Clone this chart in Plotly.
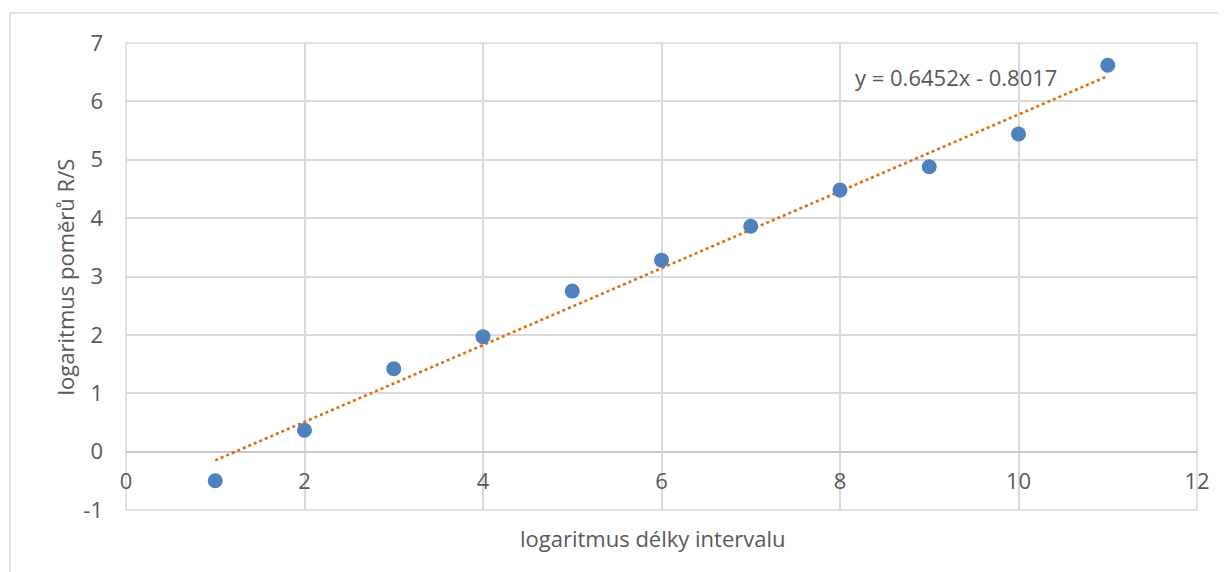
import numpy as np
import plotly.graph_objects as go

# Data
x_vals = [1, 2, 3, 4, 5, 6, 7, 8, 9, 10, 11]
y_vals = [-0.50, 0.365, 1.42, 1.97, 2.75, 3.28, 3.86, 4.48, 4.88, 5.44, 6.62]
x_ticks = [0, 2, 4, 6, 8, 10, 12]
y_ticks = [-1, 0, 1, 2, 3, 4, 5, 6, 7]
equation_label = "y = 0.6452x - 0.8017"
x_title = "logaritmus délky intervalu"
y_title = "logaritmus poměrů R/S"

# Linear trendline computed from the data
slope, intercept = np.polyfit(x_vals, y_vals, 1)
trend_x = [min(x_vals), max(x_vals)]
trend_y = [slope * v + intercept for v in trend_x]

FONT = "Open Sans"
FS = 22
TXT = "#595959"
GRID = "#d9d9d9"

fig = go.Figure()
fig.add_trace(go.Scatter(
    x=trend_x, y=trend_y, mode="lines",
    line=dict(color="#E46C0A", width=2.6, dash="dot"),
    hoverinfo="skip", showlegend=False,
))
fig.add_trace(go.Scatter(
    x=x_vals, y=y_vals, mode="markers",
    marker=dict(color="#4F81BD", size=15),
    showlegend=False,
))

fig.update_layout(
    width=1226, height=572,
    margin=dict(l=118, r=37, t=35, b=70),
    paper_bgcolor="white", plot_bgcolor="white",
    font=dict(family=FONT, size=FS, color=TXT),
    xaxis=dict(
        range=[0, 12], tickvals=x_ticks, ticktext=[str(v) for v in x_ticks],
        showgrid=True, gridcolor=GRID, gridwidth=1.5,
        zeroline=False, showline=False, ticks="",
        anchor="free", position=0.125, automargin=False,
        ticklabelstandoff=14,
        tickfont=dict(family=FONT, size=FS, color=TXT),
    ),
    yaxis=dict(
        range=[-1, 7], tickvals=y_ticks, ticktext=[str(v) for v in y_ticks],
        showgrid=True, gridcolor=GRID, gridwidth=1.5,
        zeroline=True, zerolinecolor="#c8c8c8", zerolinewidth=1.5,
        showline=False, ticks="", ticklabelstandoff=22, automargin=False,
        tickfont=dict(family=FONT, size=FS, color=TXT),
    ),
    shapes=[
        dict(type="rect", xref="paper", yref="paper", x0=0, x1=1, y0=0, y1=1,
             line=dict(color=GRID, width=1.5), layer="below"),
        dict(type="rect", xref="paper", yref="paper", x0=-0.1083, x1=1.05, y0=-0.2, y1=1.0642,
             line=dict(color=GRID, width=1.5), layer="below"),
    ],
    annotations=[
        dict(text=x_title, xref="paper", yref="paper", x=0.4916, y=-0.06,
             xanchor="center", yanchor="middle", showarrow=False,
             font=dict(family=FONT, size=FS, color=TXT)),
        dict(text=y_title, xref="paper", yref="paper", x=-0.057, y=0.5,
             xanchor="center", yanchor="middle", showarrow=False, textangle=-90,
             font=dict(family=FONT, size=FS, color=TXT)),
        dict(text=equation_label, xref="x", yref="y", x=8.15, y=6.42,
             xanchor="left", yanchor="middle", showarrow=False,
             font=dict(family=FONT, size=FS, color=TXT)),
    ],
)

fig.write_html("out.html")
